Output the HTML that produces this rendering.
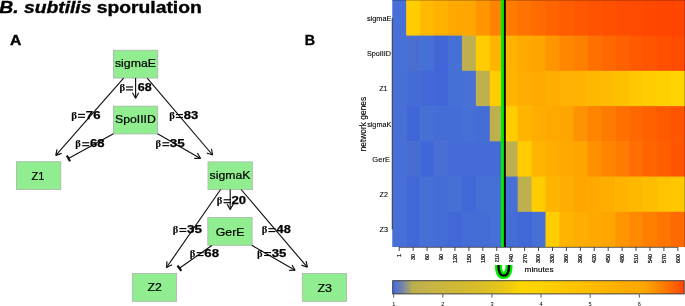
<!DOCTYPE html>
<html><head><meta charset="utf-8"><style>
html,body{margin:0;padding:0;background:#fff;}
body{width:685px;height:306px;overflow:hidden;}
svg{display:block;font-family:"Liberation Sans",sans-serif;will-change:transform;}
</style></head><body>
<svg width="685" height="306" viewBox="0 0 685 306">
<rect x="392.27" y="-0.64" width="14.53" height="36.84" fill="#4670D8"/>
<rect x="406.2" y="-0.64" width="14.53" height="36.84" fill="#FFCC00"/>
<rect x="420.13" y="-0.64" width="14.53" height="36.84" fill="#FFB900"/>
<rect x="434.06" y="-0.64" width="14.53" height="36.84" fill="#FFB000"/>
<rect x="447.99" y="-0.64" width="14.53" height="36.84" fill="#FFA900"/>
<rect x="461.92" y="-0.64" width="14.53" height="36.84" fill="#FFA700"/>
<rect x="475.85" y="-0.64" width="14.53" height="36.84" fill="#FF9500"/>
<rect x="489.78" y="-0.64" width="14.53" height="36.84" fill="#FF8200"/>
<rect x="503.71" y="-0.64" width="14.53" height="36.84" fill="#FF7A00"/>
<rect x="517.64" y="-0.64" width="14.53" height="36.84" fill="#FF7300"/>
<rect x="531.57" y="-0.64" width="14.53" height="36.84" fill="#FF6B00"/>
<rect x="545.5" y="-0.64" width="14.53" height="36.84" fill="#FF6400"/>
<rect x="559.43" y="-0.64" width="14.53" height="36.84" fill="#FF5D00"/>
<rect x="573.36" y="-0.64" width="14.53" height="36.84" fill="#FF5800"/>
<rect x="587.29" y="-0.64" width="14.53" height="36.84" fill="#FF5300"/>
<rect x="601.22" y="-0.64" width="14.53" height="36.84" fill="#FF5000"/>
<rect x="615.15" y="-0.64" width="14.53" height="36.84" fill="#FF4C00"/>
<rect x="629.08" y="-0.64" width="14.53" height="36.84" fill="#FF4A00"/>
<rect x="643.01" y="-0.64" width="14.53" height="36.84" fill="#FF4700"/>
<rect x="656.94" y="-0.64" width="14.53" height="36.84" fill="#FF4600"/>
<rect x="670.87" y="-0.64" width="14.93" height="36.84" fill="#FF4500"/>
<rect x="392.27" y="35.6" width="14.53" height="35.84" fill="#4670D8"/>
<rect x="406.2" y="35.6" width="14.53" height="35.84" fill="#4A6DD0"/>
<rect x="420.13" y="35.6" width="14.53" height="35.84" fill="#4570D5"/>
<rect x="434.06" y="35.6" width="14.53" height="35.84" fill="#4166D8"/>
<rect x="447.99" y="35.6" width="14.53" height="35.84" fill="#4670D6"/>
<rect x="461.92" y="35.6" width="14.53" height="35.84" fill="#BEB04F"/>
<rect x="475.85" y="35.6" width="14.53" height="35.84" fill="#FFCC00"/>
<rect x="489.78" y="35.6" width="14.53" height="35.84" fill="#FFB400"/>
<rect x="503.71" y="35.6" width="14.53" height="35.84" fill="#FFB300"/>
<rect x="517.64" y="35.6" width="14.53" height="35.84" fill="#FFAA00"/>
<rect x="531.57" y="35.6" width="14.53" height="35.84" fill="#FFA500"/>
<rect x="545.5" y="35.6" width="14.53" height="35.84" fill="#FF9500"/>
<rect x="559.43" y="35.6" width="14.53" height="35.84" fill="#FF8800"/>
<rect x="573.36" y="35.6" width="14.53" height="35.84" fill="#FF7F00"/>
<rect x="587.29" y="35.6" width="14.53" height="35.84" fill="#FF7000"/>
<rect x="601.22" y="35.6" width="14.53" height="35.84" fill="#FF6800"/>
<rect x="615.15" y="35.6" width="14.53" height="35.84" fill="#FF6000"/>
<rect x="629.08" y="35.6" width="14.53" height="35.84" fill="#FF5A00"/>
<rect x="643.01" y="35.6" width="14.53" height="35.84" fill="#FF5500"/>
<rect x="656.94" y="35.6" width="14.53" height="35.84" fill="#FF5000"/>
<rect x="670.87" y="35.6" width="14.93" height="35.84" fill="#FF4B00"/>
<rect x="392.27" y="70.84" width="14.53" height="35.84" fill="#4670D6"/>
<rect x="406.2" y="70.84" width="14.53" height="35.84" fill="#446BD6"/>
<rect x="420.13" y="70.84" width="14.53" height="35.84" fill="#4268D8"/>
<rect x="434.06" y="70.84" width="14.53" height="35.84" fill="#4266DA"/>
<rect x="447.99" y="70.84" width="14.53" height="35.84" fill="#4570D5"/>
<rect x="461.92" y="70.84" width="14.53" height="35.84" fill="#4870D5"/>
<rect x="475.85" y="70.84" width="14.53" height="35.84" fill="#BEB04F"/>
<rect x="489.78" y="70.84" width="14.53" height="35.84" fill="#FFCC00"/>
<rect x="503.71" y="70.84" width="14.53" height="35.84" fill="#FFB500"/>
<rect x="517.64" y="70.84" width="14.53" height="35.84" fill="#FFAD00"/>
<rect x="531.57" y="70.84" width="14.53" height="35.84" fill="#FFA800"/>
<rect x="545.5" y="70.84" width="14.53" height="35.84" fill="#FFAD00"/>
<rect x="559.43" y="70.84" width="14.53" height="35.84" fill="#FFB000"/>
<rect x="573.36" y="70.84" width="14.53" height="35.84" fill="#FFB200"/>
<rect x="587.29" y="70.84" width="14.53" height="35.84" fill="#FFB800"/>
<rect x="601.22" y="70.84" width="14.53" height="35.84" fill="#FFBC00"/>
<rect x="615.15" y="70.84" width="14.53" height="35.84" fill="#FFC000"/>
<rect x="629.08" y="70.84" width="14.53" height="35.84" fill="#FFC800"/>
<rect x="643.01" y="70.84" width="14.53" height="35.84" fill="#FFCD00"/>
<rect x="656.94" y="70.84" width="14.53" height="35.84" fill="#FFD000"/>
<rect x="670.87" y="70.84" width="14.93" height="35.84" fill="#FFD400"/>
<rect x="392.27" y="106.08" width="14.53" height="35.84" fill="#4670D6"/>
<rect x="406.2" y="106.08" width="14.53" height="35.84" fill="#4166D8"/>
<rect x="420.13" y="106.08" width="14.53" height="35.84" fill="#4670D4"/>
<rect x="434.06" y="106.08" width="14.53" height="35.84" fill="#456DD6"/>
<rect x="447.99" y="106.08" width="14.53" height="35.84" fill="#456DD6"/>
<rect x="461.92" y="106.08" width="14.53" height="35.84" fill="#4670D6"/>
<rect x="475.85" y="106.08" width="14.53" height="35.84" fill="#456DD6"/>
<rect x="489.78" y="106.08" width="14.53" height="35.84" fill="#BEB04F"/>
<rect x="503.71" y="106.08" width="14.53" height="35.84" fill="#FFCC00"/>
<rect x="517.64" y="106.08" width="14.53" height="35.84" fill="#FFB500"/>
<rect x="531.57" y="106.08" width="14.53" height="35.84" fill="#FFAD00"/>
<rect x="545.5" y="106.08" width="14.53" height="35.84" fill="#FFA800"/>
<rect x="559.43" y="106.08" width="14.53" height="35.84" fill="#FFA500"/>
<rect x="573.36" y="106.08" width="14.53" height="35.84" fill="#FF9200"/>
<rect x="587.29" y="106.08" width="14.53" height="35.84" fill="#FF8400"/>
<rect x="601.22" y="106.08" width="14.53" height="35.84" fill="#FF7A00"/>
<rect x="615.15" y="106.08" width="14.53" height="35.84" fill="#FF7000"/>
<rect x="629.08" y="106.08" width="14.53" height="35.84" fill="#FF6800"/>
<rect x="643.01" y="106.08" width="14.53" height="35.84" fill="#FF6000"/>
<rect x="656.94" y="106.08" width="14.53" height="35.84" fill="#FF5A00"/>
<rect x="670.87" y="106.08" width="14.93" height="35.84" fill="#FF5500"/>
<rect x="392.27" y="141.32" width="14.53" height="35.84" fill="#4670D8"/>
<rect x="406.2" y="141.32" width="14.53" height="35.84" fill="#486DD0"/>
<rect x="420.13" y="141.32" width="14.53" height="35.84" fill="#4066DC"/>
<rect x="434.06" y="141.32" width="14.53" height="35.84" fill="#486ED4"/>
<rect x="447.99" y="141.32" width="14.53" height="35.84" fill="#456CD6"/>
<rect x="461.92" y="141.32" width="14.53" height="35.84" fill="#456CD6"/>
<rect x="475.85" y="141.32" width="14.53" height="35.84" fill="#456CD6"/>
<rect x="489.78" y="141.32" width="14.53" height="35.84" fill="#456CD6"/>
<rect x="503.71" y="141.32" width="14.53" height="35.84" fill="#BEB04F"/>
<rect x="517.64" y="141.32" width="14.53" height="35.84" fill="#FFCC00"/>
<rect x="531.57" y="141.32" width="14.53" height="35.84" fill="#FFB400"/>
<rect x="545.5" y="141.32" width="14.53" height="35.84" fill="#FFAD00"/>
<rect x="559.43" y="141.32" width="14.53" height="35.84" fill="#FFA800"/>
<rect x="573.36" y="141.32" width="14.53" height="35.84" fill="#FFA500"/>
<rect x="587.29" y="141.32" width="14.53" height="35.84" fill="#FF9100"/>
<rect x="601.22" y="141.32" width="14.53" height="35.84" fill="#FF8500"/>
<rect x="615.15" y="141.32" width="14.53" height="35.84" fill="#FF7C00"/>
<rect x="629.08" y="141.32" width="14.53" height="35.84" fill="#FF6E00"/>
<rect x="643.01" y="141.32" width="14.53" height="35.84" fill="#FF6400"/>
<rect x="656.94" y="141.32" width="14.53" height="35.84" fill="#FF5E00"/>
<rect x="670.87" y="141.32" width="14.93" height="35.84" fill="#FF5500"/>
<rect x="392.27" y="176.56" width="14.53" height="35.84" fill="#4670D8"/>
<rect x="406.2" y="176.56" width="14.53" height="35.84" fill="#4268D8"/>
<rect x="420.13" y="176.56" width="14.53" height="35.84" fill="#4670D6"/>
<rect x="434.06" y="176.56" width="14.53" height="35.84" fill="#456DD6"/>
<rect x="447.99" y="176.56" width="14.53" height="35.84" fill="#4670D4"/>
<rect x="461.92" y="176.56" width="14.53" height="35.84" fill="#4268D8"/>
<rect x="475.85" y="176.56" width="14.53" height="35.84" fill="#4670D6"/>
<rect x="489.78" y="176.56" width="14.53" height="35.84" fill="#4670D6"/>
<rect x="503.71" y="176.56" width="14.53" height="35.84" fill="#4670D8"/>
<rect x="517.64" y="176.56" width="14.53" height="35.84" fill="#BEB04F"/>
<rect x="531.57" y="176.56" width="14.53" height="35.84" fill="#FFCC00"/>
<rect x="545.5" y="176.56" width="14.53" height="35.84" fill="#FFB400"/>
<rect x="559.43" y="176.56" width="14.53" height="35.84" fill="#FFAD00"/>
<rect x="573.36" y="176.56" width="14.53" height="35.84" fill="#FFA600"/>
<rect x="587.29" y="176.56" width="14.53" height="35.84" fill="#FFA900"/>
<rect x="601.22" y="176.56" width="14.53" height="35.84" fill="#FFAE00"/>
<rect x="615.15" y="176.56" width="14.53" height="35.84" fill="#FFB300"/>
<rect x="629.08" y="176.56" width="14.53" height="35.84" fill="#FFB800"/>
<rect x="643.01" y="176.56" width="14.53" height="35.84" fill="#FFBD00"/>
<rect x="656.94" y="176.56" width="14.53" height="35.84" fill="#FFC300"/>
<rect x="670.87" y="176.56" width="14.93" height="35.84" fill="#FFC700"/>
<rect x="392.27" y="211.8" width="14.53" height="35.24" fill="#4670D6"/>
<rect x="406.2" y="211.8" width="14.53" height="35.24" fill="#4268D8"/>
<rect x="420.13" y="211.8" width="14.53" height="35.24" fill="#4670D6"/>
<rect x="434.06" y="211.8" width="14.53" height="35.24" fill="#456DD6"/>
<rect x="447.99" y="211.8" width="14.53" height="35.24" fill="#4268D8"/>
<rect x="461.92" y="211.8" width="14.53" height="35.24" fill="#456DD6"/>
<rect x="475.85" y="211.8" width="14.53" height="35.24" fill="#456DD6"/>
<rect x="489.78" y="211.8" width="14.53" height="35.24" fill="#4670D6"/>
<rect x="503.71" y="211.8" width="14.53" height="35.24" fill="#456DD6"/>
<rect x="517.64" y="211.8" width="14.53" height="35.24" fill="#4268D8"/>
<rect x="531.57" y="211.8" width="14.53" height="35.24" fill="#4670D6"/>
<rect x="545.5" y="211.8" width="14.53" height="35.24" fill="#FFCC00"/>
<rect x="559.43" y="211.8" width="14.53" height="35.24" fill="#FFB400"/>
<rect x="573.36" y="211.8" width="14.53" height="35.24" fill="#FFAD00"/>
<rect x="587.29" y="211.8" width="14.53" height="35.24" fill="#FFA800"/>
<rect x="601.22" y="211.8" width="14.53" height="35.24" fill="#FFA500"/>
<rect x="615.15" y="211.8" width="14.53" height="35.24" fill="#FF9600"/>
<rect x="629.08" y="211.8" width="14.53" height="35.24" fill="#FF8900"/>
<rect x="643.01" y="211.8" width="14.53" height="35.24" fill="#FF7E00"/>
<rect x="656.94" y="211.8" width="14.53" height="35.24" fill="#FF7500"/>
<rect x="670.87" y="211.8" width="14.93" height="35.24" fill="#FF6A00"/>
<rect x="392.27" y="0" width="292.53" height="1" fill="#000" fill-opacity="0.2"/>
<rect x="684" y="0" width="1" height="247.04" fill="#000" fill-opacity="0.2"/>
<line x1="392.27" y1="17.98" x2="392.27" y2="229.42" stroke="#333" stroke-width="1"/>
<line x1="399.23" y1="247.34" x2="677.84" y2="247.34" stroke="#333" stroke-width="0.8"/>
<line x1="399.23" y1="247.04" x2="399.23" y2="251.04" stroke="#333" stroke-width="0.9"/>
<text transform="translate(401.18,253.9) rotate(-90)" text-anchor="end" font-size="5.5" fill="#000" stroke="#000" stroke-width="0.2">1</text>
<line x1="413.16" y1="247.04" x2="413.16" y2="251.04" stroke="#333" stroke-width="0.9"/>
<text transform="translate(415.11,253.9) rotate(-90)" text-anchor="end" font-size="5.5" fill="#000" stroke="#000" stroke-width="0.2">30</text>
<line x1="427.09" y1="247.04" x2="427.09" y2="251.04" stroke="#333" stroke-width="0.9"/>
<text transform="translate(429.04,253.9) rotate(-90)" text-anchor="end" font-size="5.5" fill="#000" stroke="#000" stroke-width="0.2">60</text>
<line x1="441.02" y1="247.04" x2="441.02" y2="251.04" stroke="#333" stroke-width="0.9"/>
<text transform="translate(442.97,253.9) rotate(-90)" text-anchor="end" font-size="5.5" fill="#000" stroke="#000" stroke-width="0.2">90</text>
<line x1="454.95" y1="247.04" x2="454.95" y2="251.04" stroke="#333" stroke-width="0.9"/>
<text transform="translate(456.9,253.9) rotate(-90)" text-anchor="end" font-size="5.5" fill="#000" stroke="#000" stroke-width="0.2">120</text>
<line x1="468.88" y1="247.04" x2="468.88" y2="251.04" stroke="#333" stroke-width="0.9"/>
<text transform="translate(470.83,253.9) rotate(-90)" text-anchor="end" font-size="5.5" fill="#000" stroke="#000" stroke-width="0.2">150</text>
<line x1="482.81" y1="247.04" x2="482.81" y2="251.04" stroke="#333" stroke-width="0.9"/>
<text transform="translate(484.76,253.9) rotate(-90)" text-anchor="end" font-size="5.5" fill="#000" stroke="#000" stroke-width="0.2">180</text>
<line x1="496.75" y1="247.04" x2="496.75" y2="251.04" stroke="#333" stroke-width="0.9"/>
<text transform="translate(498.69,253.9) rotate(-90)" text-anchor="end" font-size="5.5" fill="#000" stroke="#000" stroke-width="0.2">210</text>
<line x1="510.67" y1="247.04" x2="510.67" y2="251.04" stroke="#333" stroke-width="0.9"/>
<text transform="translate(512.62,253.9) rotate(-90)" text-anchor="end" font-size="5.5" fill="#000" stroke="#000" stroke-width="0.2">240</text>
<line x1="524.61" y1="247.04" x2="524.61" y2="251.04" stroke="#333" stroke-width="0.9"/>
<text transform="translate(526.56,253.9) rotate(-90)" text-anchor="end" font-size="5.5" fill="#000" stroke="#000" stroke-width="0.2">270</text>
<line x1="538.53" y1="247.04" x2="538.53" y2="251.04" stroke="#333" stroke-width="0.9"/>
<text transform="translate(540.49,253.9) rotate(-90)" text-anchor="end" font-size="5.5" fill="#000" stroke="#000" stroke-width="0.2">300</text>
<line x1="552.46" y1="247.04" x2="552.46" y2="251.04" stroke="#333" stroke-width="0.9"/>
<text transform="translate(554.41,253.9) rotate(-90)" text-anchor="end" font-size="5.5" fill="#000" stroke="#000" stroke-width="0.2">330</text>
<line x1="566.39" y1="247.04" x2="566.39" y2="251.04" stroke="#333" stroke-width="0.9"/>
<text transform="translate(568.35,253.9) rotate(-90)" text-anchor="end" font-size="5.5" fill="#000" stroke="#000" stroke-width="0.2">360</text>
<line x1="580.33" y1="247.04" x2="580.33" y2="251.04" stroke="#333" stroke-width="0.9"/>
<text transform="translate(582.28,253.9) rotate(-90)" text-anchor="end" font-size="5.5" fill="#000" stroke="#000" stroke-width="0.2">390</text>
<line x1="594.25" y1="247.04" x2="594.25" y2="251.04" stroke="#333" stroke-width="0.9"/>
<text transform="translate(596.21,253.9) rotate(-90)" text-anchor="end" font-size="5.5" fill="#000" stroke="#000" stroke-width="0.2">420</text>
<line x1="608.18" y1="247.04" x2="608.18" y2="251.04" stroke="#333" stroke-width="0.9"/>
<text transform="translate(610.13,253.9) rotate(-90)" text-anchor="end" font-size="5.5" fill="#000" stroke="#000" stroke-width="0.2">450</text>
<line x1="622.12" y1="247.04" x2="622.12" y2="251.04" stroke="#333" stroke-width="0.9"/>
<text transform="translate(624.07,253.9) rotate(-90)" text-anchor="end" font-size="5.5" fill="#000" stroke="#000" stroke-width="0.2">480</text>
<line x1="636.04" y1="247.04" x2="636.04" y2="251.04" stroke="#333" stroke-width="0.9"/>
<text transform="translate(638,253.9) rotate(-90)" text-anchor="end" font-size="5.5" fill="#000" stroke="#000" stroke-width="0.2">510</text>
<line x1="649.97" y1="247.04" x2="649.97" y2="251.04" stroke="#333" stroke-width="0.9"/>
<text transform="translate(651.92,253.9) rotate(-90)" text-anchor="end" font-size="5.5" fill="#000" stroke="#000" stroke-width="0.2">540</text>
<line x1="663.9" y1="247.04" x2="663.9" y2="251.04" stroke="#333" stroke-width="0.9"/>
<text transform="translate(665.86,253.9) rotate(-90)" text-anchor="end" font-size="5.5" fill="#000" stroke="#000" stroke-width="0.2">570</text>
<line x1="677.84" y1="247.04" x2="677.84" y2="251.04" stroke="#333" stroke-width="0.9"/>
<text transform="translate(679.79,253.9) rotate(-90)" text-anchor="end" font-size="5.5" fill="#000" stroke="#000" stroke-width="0.2">600</text>
<text x="366.95" y="20.7" font-size="7" textLength="24.44" lengthAdjust="spacingAndGlyphs" fill="#000" stroke="#000" stroke-width="0.1">sigmaE</text>
<text x="366.96" y="55.5" font-size="7" textLength="24.06" lengthAdjust="spacingAndGlyphs" fill="#000" stroke="#000" stroke-width="0.1">SpoIIID</text>
<text x="379.18" y="90.8" font-size="7" textLength="8.28" lengthAdjust="spacingAndGlyphs" fill="#000" stroke="#000" stroke-width="0.1">Z1</text>
<text x="367.16" y="126.8" font-size="7" textLength="24.07" lengthAdjust="spacingAndGlyphs" fill="#000" stroke="#000" stroke-width="0.1">sigmaK</text>
<text x="372.38" y="161.9" font-size="7" textLength="17.62" lengthAdjust="spacingAndGlyphs" fill="#000" stroke="#000" stroke-width="0.1">GerE</text>
<text x="379.54" y="196.8" font-size="7" textLength="8.31" lengthAdjust="spacingAndGlyphs" fill="#000" stroke="#000" stroke-width="0.1">Z2</text>
<text x="379.5" y="231.8" font-size="7" textLength="8.43" lengthAdjust="spacingAndGlyphs" fill="#000" stroke="#000" stroke-width="0.1">Z3</text>
<text transform="translate(366.1,124.1) rotate(-90)" text-anchor="middle" font-size="8.4" fill="#000" stroke="#000" stroke-width="0.12">network genes</text>
<text x="524.59" y="271.8" font-size="8" textLength="28.99" lengthAdjust="spacingAndGlyphs" fill="#000" stroke="#000" stroke-width="0.15">minutes</text>
<rect x="501" y="0" width="3" height="247" fill="#00EE00"/>
<rect x="503.9" y="0" width="1.9" height="247" fill="#000"/>
<path d="M498.4,264.9 C498.4,272.5 500.9,275.6 503.75,275.6 C506.6,275.6 509.1,272.5 509.1,264.9" fill="none" stroke="#00EE00" stroke-width="7"/>
<path d="M498.4,264.9 C498.4,272.5 500.9,275.6 503.75,275.6 C506.6,275.6 509.1,272.5 509.1,264.9" fill="none" stroke="#000" stroke-width="2.4"/>
<rect x="490" y="262" width="30" height="2.9" fill="#fff"/>
<defs><linearGradient id="cb" x1="0" x2="1" y1="0" y2="0"><stop offset="0" stop-color="#4169E1"/><stop offset="0.012" stop-color="#5474CC"/><stop offset="0.03" stop-color="#6E80AC"/><stop offset="0.045" stop-color="#8C9290"/><stop offset="0.058" stop-color="#A6A06C"/><stop offset="0.066" stop-color="#BBAE50"/><stop offset="0.13" stop-color="#C6B444"/><stop offset="0.27" stop-color="#D6BC2C"/><stop offset="0.34" stop-color="#E0C220"/><stop offset="0.385" stop-color="#EAC814"/><stop offset="0.43" stop-color="#FAD204"/><stop offset="0.44" stop-color="#FFD500"/><stop offset="0.506" stop-color="#FFD200"/><stop offset="0.609" stop-color="#FFC500"/><stop offset="0.712" stop-color="#FFB800"/><stop offset="0.78" stop-color="#FFAE00"/><stop offset="0.867" stop-color="#FFA500"/><stop offset="0.901" stop-color="#FF9000"/><stop offset="0.935" stop-color="#FF7800"/><stop offset="0.97" stop-color="#FF5E00"/><stop offset="1" stop-color="#FF4500"/></linearGradient></defs>
<rect x="392.7" y="280.7" width="291.5" height="13.2" fill="url(#cb)" stroke="#333" stroke-width="0.9"/>
<line x1="393.7" y1="294.2" x2="393.7" y2="297.6" stroke="#444" stroke-width="0.9"/>
<text x="393.7" y="305.6" text-anchor="middle" font-size="5.6" fill="#000">1</text>
<line x1="442.82" y1="294.2" x2="442.82" y2="297.6" stroke="#444" stroke-width="0.9"/>
<text x="442.82" y="305.6" text-anchor="middle" font-size="5.6" fill="#000">2</text>
<line x1="491.94" y1="294.2" x2="491.94" y2="297.6" stroke="#444" stroke-width="0.9"/>
<text x="491.94" y="305.6" text-anchor="middle" font-size="5.6" fill="#000">3</text>
<line x1="541.06" y1="294.2" x2="541.06" y2="297.6" stroke="#444" stroke-width="0.9"/>
<text x="541.06" y="305.6" text-anchor="middle" font-size="5.6" fill="#000">4</text>
<line x1="590.18" y1="294.2" x2="590.18" y2="297.6" stroke="#444" stroke-width="0.9"/>
<text x="590.18" y="305.6" text-anchor="middle" font-size="5.6" fill="#000">5</text>
<line x1="639.3" y1="294.2" x2="639.3" y2="297.6" stroke="#444" stroke-width="0.9"/>
<text x="639.3" y="305.6" text-anchor="middle" font-size="5.6" fill="#000">6</text>
<rect x="113.5" y="50.25" width="44.3" height="27.8" fill="#90EE90" stroke="#aab4aa" stroke-width="0.8"/>
<text x="114.97" y="66.8" font-size="11.4" textLength="41.0" lengthAdjust="spacingAndGlyphs" fill="#000" stroke="#000" stroke-width="0.22">sigmaE</text>
<rect x="113.4" y="106.15" width="44.3" height="27.8" fill="#90EE90" stroke="#aab4aa" stroke-width="0.8"/>
<text x="115.1" y="122.8" font-size="11.4" textLength="40.71" lengthAdjust="spacingAndGlyphs" fill="#000" stroke="#000" stroke-width="0.22">SpoIIID</text>
<rect x="16.5" y="161.7" width="44.3" height="27.8" fill="#90EE90" stroke="#aab4aa" stroke-width="0.8"/>
<text x="31.46" y="179.9" font-size="11.4" textLength="12.88" lengthAdjust="spacingAndGlyphs" fill="#000" stroke="#000" stroke-width="0.22">Z1</text>
<rect x="208" y="161.9" width="44.3" height="27.8" fill="#90EE90" stroke="#aab4aa" stroke-width="0.8"/>
<text x="209.61" y="178.6" font-size="11.4" textLength="40.74" lengthAdjust="spacingAndGlyphs" fill="#000" stroke="#000" stroke-width="0.22">sigmaK</text>
<rect x="207.8" y="217.5" width="44.3" height="27.8" fill="#90EE90" stroke="#aab4aa" stroke-width="0.8"/>
<text x="215.76" y="235.7" font-size="11.4" textLength="28.68" lengthAdjust="spacingAndGlyphs" fill="#000" stroke="#000" stroke-width="0.22">GerE</text>
<rect x="132.3" y="273.5" width="44.3" height="27.8" fill="#90EE90" stroke="#aab4aa" stroke-width="0.8"/>
<text x="147.47" y="291.4" font-size="11.4" textLength="14.31" lengthAdjust="spacingAndGlyphs" fill="#000" stroke="#000" stroke-width="0.22">Z2</text>
<rect x="302.3" y="273.5" width="44.3" height="27.8" fill="#90EE90" stroke="#aab4aa" stroke-width="0.8"/>
<text x="317.42" y="291.6" font-size="11.4" textLength="14.56" lengthAdjust="spacingAndGlyphs" fill="#000" stroke="#000" stroke-width="0.22">Z3</text>
<g stroke="#111" stroke-width="1.15" fill="none"><line x1="135.6" y1="78.1" x2="135.6" y2="98.2"/><line x1="135.6" y1="98.2" x2="138.7" y2="92.83"/><line x1="135.6" y1="98.2" x2="132.5" y2="92.83"/><line x1="123.6" y1="78.1" x2="55.8" y2="155.4"/><line x1="55.8" y1="155.4" x2="61.67" y2="153.41"/><line x1="55.8" y1="155.4" x2="57.01" y2="149.32"/><line x1="147.2" y1="78.1" x2="212.6" y2="155"/><line x1="212.6" y1="155" x2="211.48" y2="148.9"/><line x1="212.6" y1="155" x2="206.76" y2="152.92"/><line x1="113.4" y1="133.8" x2="68.4" y2="158.4"/><line x1="66.82" y1="155.5" x2="69.98" y2="161.3" stroke-width="2.2"/><line x1="157.6" y1="133.8" x2="200.5" y2="158.4"/><line x1="200.5" y1="158.4" x2="197.38" y2="153.04"/><line x1="200.5" y1="158.4" x2="194.3" y2="158.42"/><line x1="230.2" y1="189.5" x2="230.2" y2="209.5"/><line x1="230.2" y1="209.5" x2="233.3" y2="204.13"/><line x1="230.2" y1="209.5" x2="227.1" y2="204.13"/><line x1="220.6" y1="189.5" x2="166.5" y2="267.5"/><line x1="166.5" y1="267.5" x2="172.11" y2="264.85"/><line x1="166.5" y1="267.5" x2="167.01" y2="261.32"/><line x1="241.1" y1="189.5" x2="307.3" y2="267.2"/><line x1="307.3" y1="267.2" x2="306.18" y2="261.1"/><line x1="307.3" y1="267.2" x2="301.46" y2="265.12"/><line x1="211.8" y1="245.5" x2="179.4" y2="268.2"/><line x1="177.51" y1="265.5" x2="181.29" y2="270.9" stroke-width="2.2"/><line x1="251.8" y1="245.3" x2="295.1" y2="270.3"/><line x1="295.1" y1="270.3" x2="292" y2="264.93"/><line x1="295.1" y1="270.3" x2="288.9" y2="270.3"/></g>
<text x="137.89" y="91.4" font-size="10.7" font-weight="bold" textLength="13.9" lengthAdjust="spacingAndGlyphs" fill="#000" stroke="#000" stroke-width="0.25">68</text>
<text x="119.52" y="91.4" font-size="10.2" font-weight="bold" font-family="Liberation Serif" textLength="5.68" lengthAdjust="spacingAndGlyphs" fill="#000" stroke="#000" stroke-width="0.1">β</text>
<text x="85.87" y="118.8" font-size="10.7" font-weight="bold" textLength="14.62" lengthAdjust="spacingAndGlyphs" fill="#000" stroke="#000" stroke-width="0.25">76</text>
<text x="71.23" y="118.8" font-size="10.2" font-weight="bold" font-family="Liberation Serif" textLength="5.8" lengthAdjust="spacingAndGlyphs" fill="#000" stroke="#000" stroke-width="0.1">β</text>
<text x="183.83" y="119" font-size="10.7" font-weight="bold" textLength="14.51" lengthAdjust="spacingAndGlyphs" fill="#000" stroke="#000" stroke-width="0.25">83</text>
<text x="169.25" y="119" font-size="10.2" font-weight="bold" font-family="Liberation Serif" textLength="5.68" lengthAdjust="spacingAndGlyphs" fill="#000" stroke="#000" stroke-width="0.1">β</text>
<text x="90.03" y="147.2" font-size="10.7" font-weight="bold" textLength="14.51" lengthAdjust="spacingAndGlyphs" fill="#000" stroke="#000" stroke-width="0.25">68</text>
<text x="75.36" y="147.2" font-size="10.2" font-weight="bold" font-family="Liberation Serif" textLength="5.56" lengthAdjust="spacingAndGlyphs" fill="#000" stroke="#000" stroke-width="0.1">β</text>
<text x="169.85" y="147.2" font-size="10.7" font-weight="bold" textLength="14.99" lengthAdjust="spacingAndGlyphs" fill="#000" stroke="#000" stroke-width="0.25">35</text>
<text x="155.54" y="147.2" font-size="10.2" font-weight="bold" font-family="Liberation Serif" textLength="5.56" lengthAdjust="spacingAndGlyphs" fill="#000" stroke="#000" stroke-width="0.1">β</text>
<text x="231.4" y="204.2" font-size="10.7" font-weight="bold" textLength="14.59" lengthAdjust="spacingAndGlyphs" fill="#000" stroke="#000" stroke-width="0.25">20</text>
<text x="216.87" y="204.2" font-size="10.2" font-weight="bold" font-family="Liberation Serif" textLength="5.6" lengthAdjust="spacingAndGlyphs" fill="#000" stroke="#000" stroke-width="0.1">β</text>
<text x="186.96" y="233" font-size="10.7" font-weight="bold" textLength="14.92" lengthAdjust="spacingAndGlyphs" fill="#000" stroke="#000" stroke-width="0.25">35</text>
<text x="172.67" y="233" font-size="10.2" font-weight="bold" font-family="Liberation Serif" textLength="5.56" lengthAdjust="spacingAndGlyphs" fill="#000" stroke="#000" stroke-width="0.1">β</text>
<text x="276.64" y="233.1" font-size="10.7" font-weight="bold" textLength="14.21" lengthAdjust="spacingAndGlyphs" fill="#000" stroke="#000" stroke-width="0.25">48</text>
<text x="261.67" y="233.1" font-size="10.2" font-weight="bold" font-family="Liberation Serif" textLength="5.56" lengthAdjust="spacingAndGlyphs" fill="#000" stroke="#000" stroke-width="0.1">β</text>
<text x="204.35" y="257.1" font-size="10.7" font-weight="bold" textLength="14.74" lengthAdjust="spacingAndGlyphs" fill="#000" stroke="#000" stroke-width="0.25">68</text>
<text x="189.87" y="257.1" font-size="10.2" font-weight="bold" font-family="Liberation Serif" textLength="5.6" lengthAdjust="spacingAndGlyphs" fill="#000" stroke="#000" stroke-width="0.1">β</text>
<text x="271.81" y="257" font-size="10.7" font-weight="bold" textLength="14.62" lengthAdjust="spacingAndGlyphs" fill="#000" stroke="#000" stroke-width="0.25">35</text>
<text x="257.14" y="257" font-size="10.2" font-weight="bold" font-family="Liberation Serif" textLength="5.63" lengthAdjust="spacingAndGlyphs" fill="#000" stroke="#000" stroke-width="0.1">β</text>
<rect x="78" y="113.8" width="7" height="1.15" fill="#000"/>
<rect x="78" y="116.7" width="7" height="1.15" fill="#000"/>
<rect x="175.9" y="114" width="7" height="1.15" fill="#000"/>
<rect x="175.9" y="116.9" width="7" height="1.15" fill="#000"/>
<rect x="82.2" y="142.2" width="7" height="1.15" fill="#000"/>
<rect x="82.2" y="145.1" width="7" height="1.15" fill="#000"/>
<rect x="162.3" y="142.2" width="7" height="1.15" fill="#000"/>
<rect x="162.3" y="145.1" width="7" height="1.15" fill="#000"/>
<rect x="223.6" y="199.2" width="7" height="1.15" fill="#000"/>
<rect x="223.6" y="202.1" width="7" height="1.15" fill="#000"/>
<rect x="179.4" y="228" width="7" height="1.15" fill="#000"/>
<rect x="179.4" y="230.9" width="7" height="1.15" fill="#000"/>
<rect x="268.4" y="228.1" width="7" height="1.15" fill="#000"/>
<rect x="268.4" y="231" width="7" height="1.15" fill="#000"/>
<rect x="196.6" y="252.1" width="7" height="1.15" fill="#000"/>
<rect x="196.6" y="255" width="7" height="1.15" fill="#000"/>
<rect x="264.1" y="252" width="7" height="1.15" fill="#000"/>
<rect x="264.1" y="254.9" width="7" height="1.15" fill="#000"/>
<rect x="126" y="86.4" width="7.1" height="1.15" fill="#000"/>
<rect x="126" y="89.3" width="7.1" height="1.15" fill="#000"/>
<text x="-0.69" y="12.6" font-size="15.6" font-weight="bold" textLength="202.44" lengthAdjust="spacingAndGlyphs" fill="#000" stroke="#000" stroke-width="0.35"><tspan font-style="italic">B. subtilis</tspan> sporulation</text>
<text x="9.96" y="44.7" font-size="14.2" font-weight="bold" textLength="11.33" lengthAdjust="spacingAndGlyphs" fill="#000" stroke="#000" stroke-width="0.4">A</text>
<text x="304.76" y="44.7" font-size="14.2" font-weight="bold" textLength="10.25" lengthAdjust="spacingAndGlyphs" fill="#000" stroke="#000" stroke-width="0.4">B</text>
</svg>
</body></html>
